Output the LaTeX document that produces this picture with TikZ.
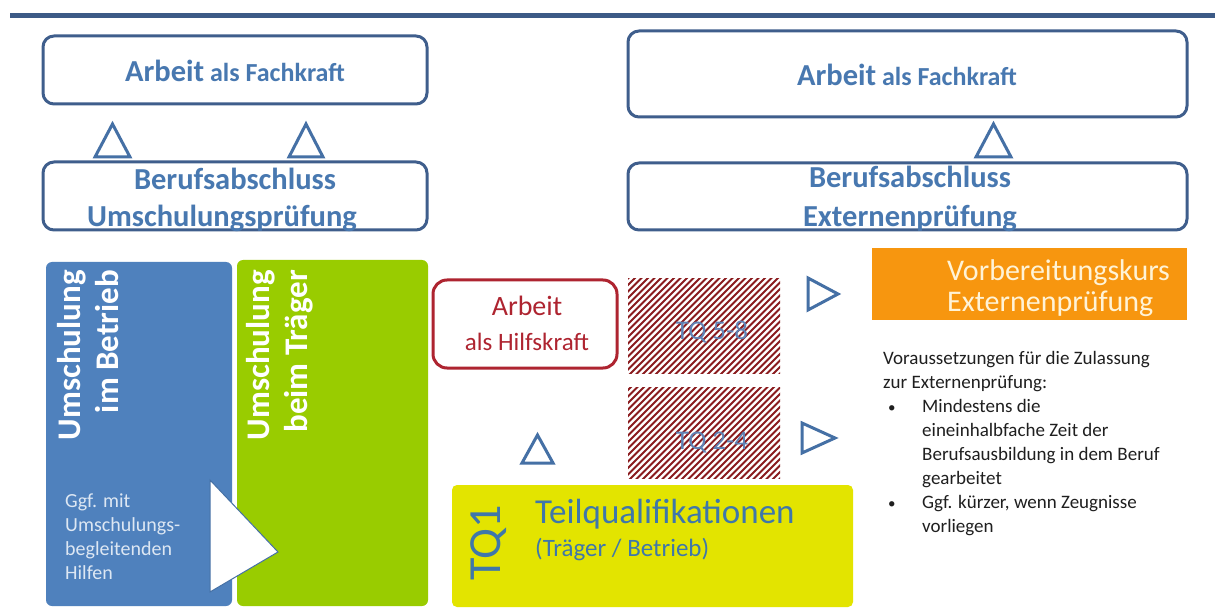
\documentclass[tikz,border=0pt]{standalone}
\usepackage{fontspec}
\setmainfont{Carlito}
\definecolor{topline}{HTML}{3C5A86}
\definecolor{boxborder}{HTML}{3F5E8C}
\definecolor{titleblue}{HTML}{4878B0}
\definecolor{blueb}{HTML}{4F81BD}
\definecolor{greenb}{HTML}{99CC00}
\definecolor{yellowb}{HTML}{E3E400}
\definecolor{orangeb}{HTML}{F7960F}
\definecolor{redb}{HTML}{AE2430}
\definecolor{hatchred}{HTML}{8A1B1E}
\definecolor{tricol}{HTML}{4570A5}
\definecolor{tqtxt}{HTML}{5F82B5}
\definecolor{tqblue}{HTML}{3F77AA}
\definecolor{bodytxt}{HTML}{1F1F1F}
\definecolor{cream}{HTML}{FFF3D6}
\definecolor{paleblue}{HTML}{DDE7F3}
\begin{document}
\begin{tikzpicture}[x=1pt,y=-1pt,
  frame/.style={draw=boxborder, line width=3pt, rounded corners=11pt, inner sep=0pt, fill=white},
  solidbox/.style={rounded corners=6pt, inner sep=0pt},
  tri/.style={draw=tricol, line width=3pt, line join=miter},
  bigtxt/.style={text=titleblue, font=\bfseries\fontsize{30.5}{36}\selectfont, inner sep=0pt, anchor=base},
  hatchline/.style={draw=hatchred, line width=2.1pt},
  vtxt/.style={text=white, font=\bfseries\fontsize{33}{38}\selectfont, inner sep=0pt, rotate=90, anchor=north east, align=right}
]
\useasboundingbox[fill=white] (0,0) rectangle (1215,612);

% top rule
\draw[line width=5pt, topline] (10,16) -- (1215,16);

% upper boxes
\node[frame, minimum width=384pt, minimum height=68pt] (fach1) at (235,70) {};
\node[frame, minimum width=384pt, minimum height=68pt] (beruf1) at (235,196) {};
\node[frame, minimum width=559pt, minimum height=86pt] (fach2) at (907.5,74) {};
\node[frame, minimum width=559pt, minimum height=67pt] (beruf2) at (907.5,196.5) {};

\node[bigtxt, font=\bfseries\fontsize{26}{30}\selectfont] (fach1t) at (235,82) {{\fontsize{30.5}{34}\selectfont Arbeit} als Fachkraft};
\node[bigtxt, font=\bfseries\fontsize{26}{30}\selectfont] (fach2t) at (907,86) {{\fontsize{30.5}{34}\selectfont Arbeit} als Fachkraft};
\node[bigtxt] (b1a) at (235,190) {Berufsabschluss};
\node[bigtxt] (b1b) at (222,227) {Umschulungsprüfung};
\node[bigtxt] (b2a) at (910,188) {Berufsabschluss};
\node[bigtxt] (b2b) at (910,227) {Externenprüfung};

% up triangles between upper boxes
\draw[tri] (95,157) -- (130,157) -- (112.5,124) -- cycle;
\draw[tri] (289,157) -- (323,157) -- (306,124) -- cycle;
\draw[tri] (976,157) -- (1011,157) -- (993.5,124) -- cycle;

% Umschulung columns
\node[solidbox, fill=blueb, minimum width=186pt, minimum height=344pt] (betrieb) at (139,434) {};
\node[solidbox, fill=greenb, minimum width=191pt, minimum height=346pt] (traeger) at (332.5,433) {};
\node[vtxt] (betriebt) at (57,270) {Umschulung\\im Betrieb};
\node[vtxt] (traegert) at (246,270) {Umschulung\\beim Träger};
\node[anchor=north west, inner sep=0pt, align=left, text=paleblue, font=\fontsize{20}{24}\selectfont] (hilfen) at (65,494) {Ggf. mit\\Umschulungs-\\begleitenden\\Hilfen};
\draw[fill=white, draw=tricol, line width=1pt, line join=miter] (210,480) -- (278,552) -- (210,592) -- cycle;

% Arbeit als Hilfskraft
\node[draw=redb, line width=3pt, rounded corners=14pt, fill=white, minimum width=184pt, minimum height=88pt, inner sep=0pt] (hilfs) at (525,324) {};
\node[anchor=base, inner sep=0pt, text=redb, font=\fontsize{28}{32}\selectfont] (hilfsa) at (527,316) {Arbeit};
\node[anchor=base, inner sep=0pt, text=redb, font=\fontsize{25}{30}\selectfont] (hilfsb) at (527,350) {als Hilfskraft};

% hatched TQ boxes
\begin{scope}
  \clip (628,279) rectangle (780,373);
  \foreach \i in {0,6.5,...,266} \draw[hatchline] (520+\i,380) -- ++(110,-110);
\end{scope}
\begin{scope}
  \clip (628,387) rectangle (780,478);
  \foreach \i in {0,6.5,...,266} \draw[hatchline] (520+\i,485) -- ++(110,-110);
\end{scope}
\node[anchor=base, inner sep=0pt, text=tqtxt, font=\fontsize{27}{32}\selectfont] (tq58) at (712,339) {TQ 5-8};
\node[anchor=base, inner sep=0pt, text=tqtxt, font=\fontsize{27}{32}\selectfont] (tq24) at (712,449) {TQ 2-4};

% triangles in the middle
\draw[tri] (808,278) -- (838,294) -- (808,310) -- cycle;
\draw[tri] (802,423) -- (835,438) -- (802,453) -- cycle;
\draw[tri] (522,463) -- (553,463) -- (537.5,435) -- cycle;

% Teilqualifikationen
\node[solidbox, rounded corners=5pt, fill=yellowb, minimum width=401pt, minimum height=122pt] (tq1box) at (652.5,546) {};
\node[rotate=90, inner sep=0pt, text=tqblue, font=\fontsize{46}{50}\selectfont] (tq1) at (489,543) {TQ1};
\node[anchor=base west, inner sep=0pt, text=tqblue, font=\fontsize{35}{40}\selectfont] (teilq) at (535,523) {Teilqualifikationen};
\node[anchor=base west, inner sep=0pt, text=tqblue, font=\fontsize{25}{30}\selectfont] (teilqb) at (535,556) {(Träger / Betrieb)};

% Vorbereitungskurs
\node[fill=orangeb, minimum width=315pt, minimum height=72pt, inner sep=0pt] (vorb) at (1029.5,284) {};
\node[anchor=base west, inner sep=0pt, text=cream, font=\fontsize{30}{32}\selectfont] (vorba) at (947,281) {Vorbereitungskurs};
\node[anchor=base west, inner sep=0pt, text=cream, font=\fontsize{30}{32}\selectfont] (vorbb) at (947,312) {Externenprüfung};

% conditions text
\node[anchor=north west, inner sep=0pt, align=left, text=bodytxt, font=\fontsize{19}{24}\selectfont] (cond) at (883,351) {Voraussetzungen für die Zulassung\\
zur Externenprüfung:\\
\makebox[39pt][l]{\hspace*{5pt}{\fontsize{15}{24}\selectfont •}}Mindestens die\\
\hspace*{39pt}eineinhalbfache Zeit der\\
\hspace*{39pt}Berufsausbildung in dem Beruf\\
\hspace*{39pt}gearbeitet\\
\makebox[39pt][l]{\hspace*{5pt}{\fontsize{15}{24}\selectfont •}}Ggf. kürzer, wenn Zeugnisse\\
\hspace*{39pt}vorliegen};
\end{tikzpicture}
\end{document}
